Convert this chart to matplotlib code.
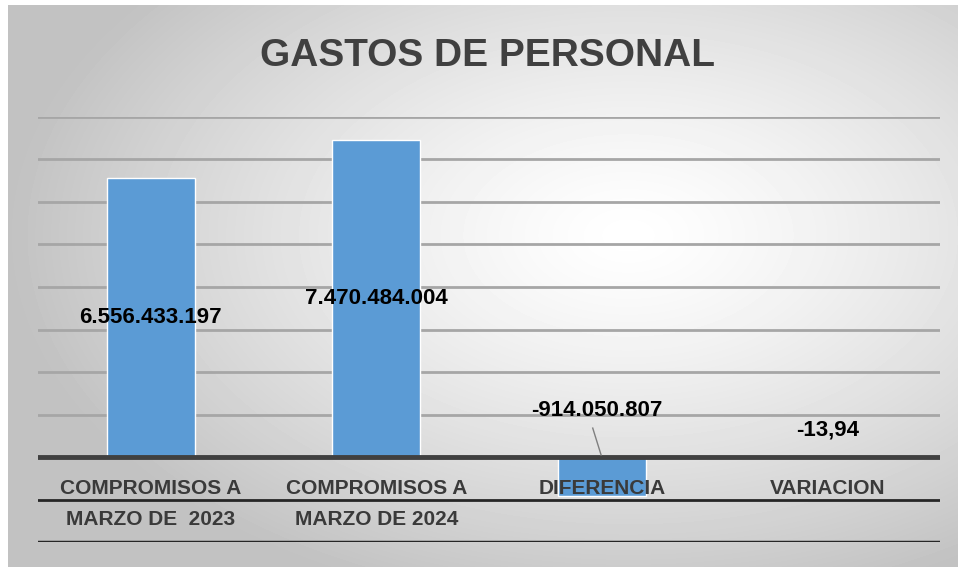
import numpy as np
import matplotlib
matplotlib.use("Agg")
from matplotlib import pyplot as plt
from matplotlib import font_manager as fm

# data
categories = ["COMPROMISOS A\n\nMARZO DE  2023", "COMPROMISOS A\n\nMARZO DE 2024", "DIFERENCIA", "VARIACION"]
values = [6556433197, 7470484004, -914050807, -13.94]
value_labels = ["6.556.433.197", "7.470.484.004", "-914.050.807", "-13,94"]
title = "GASTOS DE PERSONAL"

names = {f.name for f in fm.fontManager.ttflist}
font = "Liberation Sans Narrow" if "Liberation Sans Narrow" in names else "Liberation Sans"
plt.rcParams['font.family'] = [font, 'DejaVu Sans']

W, H = 958, 567
fig = plt.figure(figsize=(W / 100, H / 100), dpi=100)
fig.patch.set_facecolor("white")

# radial grey background of the chart area
bg = fig.add_axes([8 / W, 0, 1 - 8 / W, 1 - 5 / H])
bg.set_axis_off()
yy, xx = np.mgrid[0:562, 0:950]
r = np.sqrt(((xx - 620) / 620.0) ** 2 + ((yy - 230) / 380.0) ** 2)
shade = 1 - 0.24 * np.clip(r, 0, 1) ** 1.3
bg.imshow(shade, cmap="gray", vmin=0, vmax=1, aspect="auto", interpolation="bilinear")

ax = fig.add_axes([38 / W, (H - 542) / H, (940 - 38) / W, (542 - 117) / H])
ax.patch.set_alpha(0)
for s in ax.spines.values():
    s.set_visible(False)

scale = 1e9
x = np.arange(len(categories))
ax.set_xlim(-0.5, len(categories) - 0.5)
ax.set_ylim(-2, 8)

for g in range(1, 9):
    ax.axhline(g, color="#a6a6a6", lw=2, zorder=0)
ax.axhline(-1, color="#262626", lw=2, zorder=0)
ax.axhline(-2, color="#262626", lw=2.5, zorder=0)

ax.bar(x, np.array(values) / scale, width=0.39, color="#5b9bd5", edgecolor="white", lw=1, zorder=2)
ax.axhline(0, color="#404040", lw=3.5, zorder=3)

# data labels
lab = dict(ha="center", va="center", fontsize=16, fontweight="bold", color="black", zorder=5)
for i in range(2):
    ax.text(x[i], values[i] / scale / 2, value_labels[i], **lab)
ax.text(1.98, 1.1, value_labels[2], **lab)
ax.plot([1.96, 1.997], [0.68, 0.05], color="#7f7f7f", lw=1, zorder=4)
ax.text(x[3], 0.64, value_labels[3], **lab)

# category labels at the bottom
for i, c in enumerate(categories):
    ax.text(x[i], -0.73, c.split("\n")[0], ha="center", va="center",
            fontsize=15, fontweight="bold", color="#3a3a3a", zorder=6)
    if "\n" in c:
        ax.text(x[i], -1.46, c.split("\n")[-1], ha="center", va="center",
                fontsize=15, fontweight="bold", color="#3a3a3a", zorder=6)

ax.set_xticks([])
ax.set_yticks([])

fig.text(487 / W, 1 - 56 / H, title, ha="center", va="center",
         fontsize=28, fontweight="bold", color="#404040")

fig.savefig("out.png", dpi=100)
